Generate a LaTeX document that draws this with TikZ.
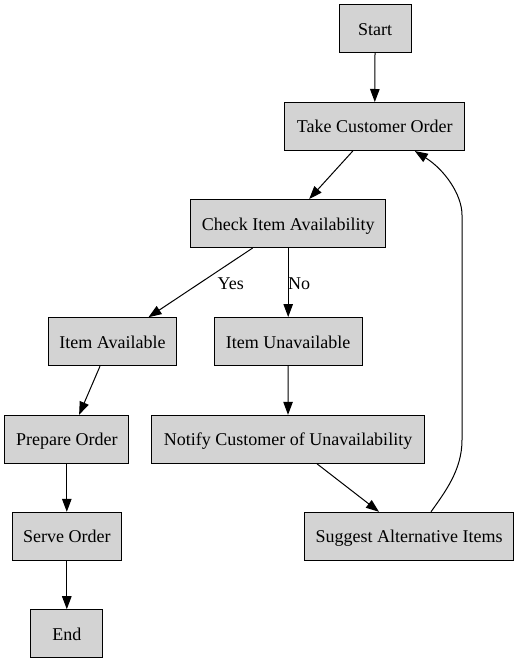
\documentclass[tikz,border=0pt]{standalone}
\usepackage{fontspec}
\setmainfont{Liberation Serif}
\usetikzlibrary{arrows.meta}
\definecolor{boxfill}{HTML}{D3D3D3}
\tikzset{
  box/.style={draw=black, fill=boxfill, line width=1pt, rectangle, inner sep=0pt,
    minimum height=48pt, text height=17pt, text depth=4pt,
    font=\fontsize{18}{21}\selectfont, anchor=center},
  edge/.style={draw=black, line width=1pt, -{Triangle[length=13pt,width=9.5pt]}},
  elabel/.style={font=\fontsize{18}{21}\selectfont, inner sep=0pt, anchor=center}
}
\begin{document}
\begin{tikzpicture}[x=1pt,y=-1pt]
\useasboundingbox (0,0) rectangle (520,663);
\node[box, minimum width=72pt]  (start)   at (375,28.7)   {Start};
\node[box, minimum width=180pt] (take)    at (374.8,126.5) {Take Customer Order};
\node[box, minimum width=195pt] (check)   at (288.2,223.5) {Check Item Availability};
\node[box, minimum width=128pt] (avail)   at (112.5,341.7) {Item Available};
\node[box, minimum width=148pt] (unavail) at (288.2,341.5) {Item Unavailable};
\node[box, minimum width=124pt] (prep)    at (66.8,439.3)  {Prepare Order};
\node[box, minimum width=273pt] (notify)  at (288,439.3)   {Notify Customer of Unavailability};
\node[box, minimum width=109pt] (serve)   at (66.8,536.3)  {Serve Order};
\node[box, minimum width=209pt] (suggest) at (409,536.3)   {Suggest Alternative Items};
\node[box, minimum width=72pt]  (end)     at (66.8,633.7)  {End};

\draw[edge] (start.south) -- (take.north);
\draw[edge] ([xshift=-22pt]take.south) -- ([xshift=21pt]check.north);
\draw[edge] ([xshift=-35.5pt]check.south) -- ([xshift=36pt]avail.north);
\draw[edge] (check.south) -- (unavail.north);
\draw[edge] ([xshift=-12.5pt]avail.south) -- ([xshift=12.3pt]prep.north);
\draw[edge] (prep.south) -- (serve.north);
\draw[edge] (serve.south) -- (end.north);
\draw[edge] (unavail.south) -- (notify.north);
\draw[edge] ([xshift=29pt]notify.south) -- ([xshift=-30pt]suggest.north);
\coordinate (c1) at (462,440);
\coordinate (c2) at (462,215);
\draw[edge] ([xshift=22pt]suggest.north) .. controls (445,492) and (462,470) .. (c1)
  -- (c2) .. controls (462,195) and (445,170) .. ([xshift=40pt]take.south);

\node[elabel] (yes) at (230.7,284) {Yes};
\node[elabel] (no)  at (299,284) {No};
\end{tikzpicture}
\end{document}
